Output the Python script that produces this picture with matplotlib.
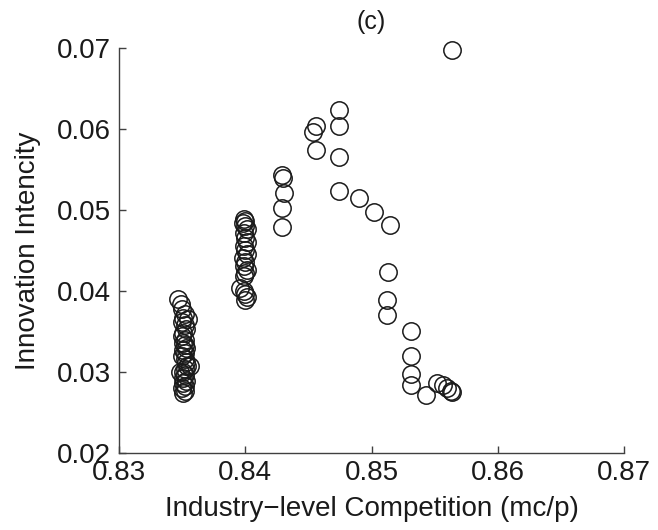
import matplotlib
matplotlib.use("Agg")
import matplotlib.pyplot as plt

# cluster near 0.835
x_a = [0.8347, 0.8349, 0.8350, 0.8352, 0.8351, 0.8350, 0.8352, 0.8353, 0.8351, 0.8350,
       0.8352, 0.8351, 0.8352, 0.8353, 0.8351, 0.8352, 0.8350, 0.8352, 0.8353, 0.8354,
       0.8352, 0.8351, 0.8352, 0.8351, 0.8353, 0.8351, 0.8352, 0.8350, 0.8352, 0.8351,
       0.8355, 0.8356, 0.8348]
y_a = [0.0390, 0.0384, 0.0378, 0.0372, 0.0367, 0.0362, 0.0358, 0.0353, 0.0348, 0.0344,
       0.0340, 0.0336, 0.0333, 0.0330, 0.0327, 0.0324, 0.0320, 0.0316, 0.0312, 0.0308,
       0.0304, 0.0300, 0.0296, 0.0292, 0.0289, 0.0286, 0.0283, 0.0280, 0.0277, 0.0274,
       0.0365, 0.0308, 0.0300]

# cluster near 0.840
x_b = [0.8399, 0.8400, 0.8398, 0.8400, 0.8401, 0.8399, 0.8400, 0.8401, 0.8399, 0.8400,
       0.8401, 0.8398, 0.8400, 0.8399, 0.8401, 0.8400, 0.8399, 0.8396, 0.8399, 0.8400,
       0.8401, 0.8400]
y_b = [0.0489, 0.0487, 0.0484, 0.0480, 0.0476, 0.0471, 0.0466, 0.0461, 0.0456, 0.0451,
       0.0446, 0.0441, 0.0436, 0.0431, 0.0426, 0.0422, 0.0418, 0.0404, 0.0400, 0.0396,
       0.0392, 0.0389]

# the rest
x_c = [0.8429, 0.8430, 0.8431, 0.8429, 0.8429,
       0.8456, 0.8454, 0.8456, 0.8474, 0.8474, 0.8474, 0.8474, 0.8490, 0.8502, 0.8515,
       0.8513, 0.8512, 0.8512, 0.8531, 0.8531, 0.8531, 0.8531, 0.8543, 0.8552, 0.8557,
       0.8560, 0.8563, 0.8564, 0.8564]
y_c = [0.0543, 0.0540, 0.0521, 0.0502, 0.0479,
       0.0604, 0.0596, 0.0574, 0.0623, 0.0604, 0.0565, 0.0523, 0.0515, 0.0498, 0.0481,
       0.0423, 0.0389, 0.0370, 0.0350, 0.0320, 0.0298, 0.0284, 0.0272, 0.0287, 0.0284,
       0.0280, 0.0276, 0.0275, 0.0697]

xs = x_a + x_b + x_c
ys = y_a + y_b + y_c

plt.rcParams['font.family'] = ['Liberation Sans', 'DejaVu Sans']
plt.rcParams['font.size'] = 20

fig = plt.figure(figsize=(6.58, 5.30), dpi=100)
ax = fig.add_axes([0.1809, 0.1453, 0.7674, 0.7641])

ax.plot(xs, ys, 'o', markersize=12.5, markerfacecolor='none',
        markeredgecolor='#1a1a1a', markeredgewidth=1.1, clip_on=False)

ax.set_xlim(0.83, 0.87)
ax.set_ylim(0.02, 0.07)
ax.set_xticks([0.83, 0.84, 0.85, 0.86, 0.87])
ax.set_xticklabels(['0.83', '0.84', '0.85', '0.86', '0.87'])
ax.set_yticks([0.02, 0.03, 0.04, 0.05, 0.06, 0.07])
ax.set_yticklabels(['0.02', '0.03', '0.04', '0.05', '0.06', '0.07'])

for s in ['top', 'right']:
    ax.spines[s].set_visible(False)
for s in ['left', 'bottom']:
    ax.spines[s].set_color('#404040')
    ax.spines[s].set_linewidth(1.0)
ax.tick_params(direction='in', length=5, width=1.0, color='#404040',
               labelcolor='#1a1a1a', labelsize=20)
ax.tick_params(axis='y', pad=6)
ax.tick_params(axis='x', pad=5)

ax.set_xlabel('Industry\u2212level Competition (mc/p)', fontsize=20, color='#1a1a1a', labelpad=7)
ax.set_ylabel('Innovation Intencity', fontsize=20, color='#1a1a1a', labelpad=11)
ax.set_title('(c)', fontsize=18, color='#1a1a1a', pad=14)

fig.savefig('out.png', dpi=100)
